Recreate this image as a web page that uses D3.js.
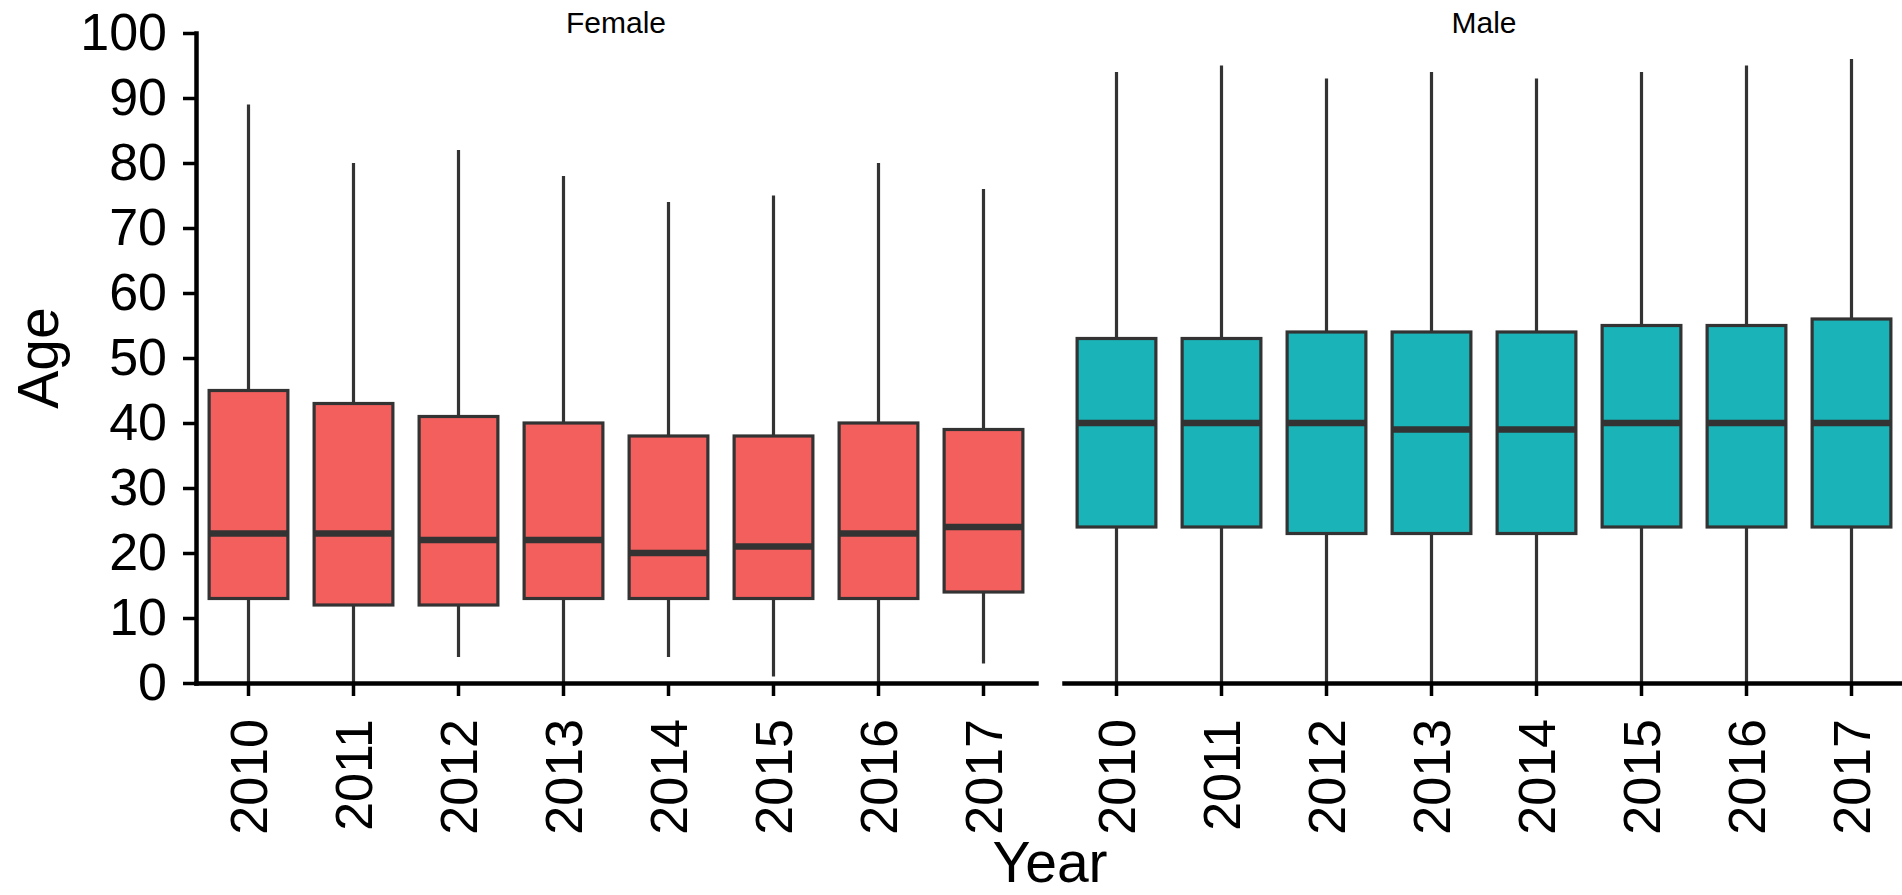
<!DOCTYPE html>
<html>
<head>
<meta charset="utf-8">
<script src="https://cdn.jsdelivr.net/npm/d3@7"></script>
<style>
  html, body { margin: 0; padding: 0; background: #ffffff; }
  svg { display: block; }
  text { font-family: "Liberation Sans", Arial, Helvetica, sans-serif; fill: #000; }
</style>
</head>
<body>
<svg id="chart" width="1902" height="895"></svg>
<script>
// ---- Data ----
const years = ["2010", "2011", "2012", "2013", "2014", "2015", "2016", "2017"];
const panels = ["Female", "Male"];
const yTicks = [0, 10, 20, 30, 40, 50, 60, 70, 80, 90, 100];

const femaleLow    = [0, 0, 4, 0, 4, 1, 0, 3];
const femaleQ1     = [13, 12, 12, 13, 13, 13, 13, 14];
const femaleMedian = [23, 23, 22, 22, 20, 21, 23, 24];
const femaleQ3     = [45, 43, 41, 40, 38, 38, 40, 39];
const femaleHigh   = [89, 80, 82, 78, 74, 75, 80, 76];

const maleLow    = [0, 0, 0, 0, 0, 0, 0, 0];
const maleQ1     = [24, 24, 23, 23, 23, 24, 24, 24];
const maleMedian = [40, 40, 40, 39, 39, 40, 40, 40];
const maleQ3     = [53, 53, 54, 54, 54, 55, 55, 56];
const maleHigh   = [94, 95, 93, 94, 93, 94, 95, 96];

const panelColors = ["#F25F5C", "#1AB3B7"];

// ---- Layout ----
const svg = d3.select("#chart");
const plotTop = 33, plotBottom = 683;
const panelW = 840, gap = 28, left0 = 196;
const panelX = [left0, left0 + panelW + gap];

const y = d3.scaleLinear().domain([0, 100]).range([plotBottom, plotTop]);

const series = [
  { low: femaleLow, q1: femaleQ1, med: femaleMedian, q3: femaleQ3, high: femaleHigh },
  { low: maleLow, q1: maleQ1, med: maleMedian, q3: maleQ3, high: maleHigh }
];

panels.forEach((name, pi) => {
  const x = d3.scaleBand().domain(years).range([panelX[pi], panelX[pi] + panelW]).padding(0);
  const bw = x.bandwidth();
  const boxW = bw * 0.75;
  const s = series[pi];
  const data = years.map((yr, i) => ({ yr, low: s.low[i], q1: s.q1[i], med: s.med[i], q3: s.q3[i], high: s.high[i] }));

  const g = svg.append("g");

  // whiskers
  g.selectAll("line.wlow").data(data).join("line")
    .attr("x1", d => x(d.yr) + bw / 2).attr("x2", d => x(d.yr) + bw / 2)
    .attr("y1", d => y(d.low)).attr("y2", d => y(d.q1))
    .attr("stroke", "#333333").attr("stroke-width", 3.2);
  g.selectAll("line.whigh").data(data).join("line")
    .attr("x1", d => x(d.yr) + bw / 2).attr("x2", d => x(d.yr) + bw / 2)
    .attr("y1", d => y(d.q3)).attr("y2", d => y(d.high))
    .attr("stroke", "#333333").attr("stroke-width", 3.2);

  // boxes
  g.selectAll("rect.box").data(data).join("rect")
    .attr("x", d => x(d.yr) + bw / 2 - boxW / 2)
    .attr("width", boxW)
    .attr("y", d => y(d.q3))
    .attr("height", d => y(d.q1) - y(d.q3))
    .attr("fill", panelColors[pi])
    .attr("stroke", "#333333").attr("stroke-width", 3.2);

  // medians
  g.selectAll("line.med").data(data).join("line")
    .attr("x1", d => x(d.yr) + bw / 2 - boxW / 2).attr("x2", d => x(d.yr) + bw / 2 + boxW / 2)
    .attr("y1", d => y(d.med)).attr("y2", d => y(d.med))
    .attr("stroke", "#333333").attr("stroke-width", 6.5);

  // x axis
  const xa = svg.append("g").attr("transform", `translate(0,${plotBottom})`)
    .call(d3.axisBottom(x).tickSize(13).tickSizeOuter(0).tickPadding(0));
  xa.select(".domain").attr("stroke", "#000").attr("stroke-width", 4.5).attr("stroke-linecap", "square");
  xa.selectAll(".tick line").attr("stroke", "#000").attr("stroke-width", 3.5);
  xa.selectAll(".tick text")
    .attr("transform", "rotate(-90)")
    .attr("x", -36).attr("y", 0).attr("dy", "0.35em")
    .style("text-anchor", "end")
    .style("font-size", "52px")
    .style("font-family", "'Liberation Sans', Arial, sans-serif")
    .attr("fill", "#000");

  // strip label
  svg.append("text")
    .attr("x", panelX[pi] + panelW / 2).attr("y", 33)
    .attr("text-anchor", "middle")
    .style("font-size", "30px")
    .text(name);
});

// y axis (left panel only)
const ya = svg.append("g").attr("transform", `translate(${left0},0)`)
  .call(d3.axisLeft(y).tickValues(yTicks).tickSize(13).tickSizeOuter(0).tickPadding(16));
ya.select(".domain").attr("stroke", "#000").attr("stroke-width", 4.5).attr("stroke-linecap", "square");
ya.selectAll(".tick line").attr("stroke", "#000").attr("stroke-width", 3.5);
ya.selectAll(".tick text")
  .style("font-size", "52px")
  .style("font-family", "'Liberation Sans', Arial, sans-serif")
  .attr("fill", "#000");

// axis titles
svg.append("text")
  .attr("transform", `translate(58,${(plotTop + plotBottom) / 2}) rotate(-90)`)
  .attr("text-anchor", "middle")
  .style("font-size", "57px")
  .text("Age");

svg.append("text")
  .attr("x", (panelX[0] + panelX[1] + panelW) / 2).attr("y", 882)
  .attr("text-anchor", "middle")
  .style("font-size", "57px")
  .text("Year");
</script>
</body>
</html>
